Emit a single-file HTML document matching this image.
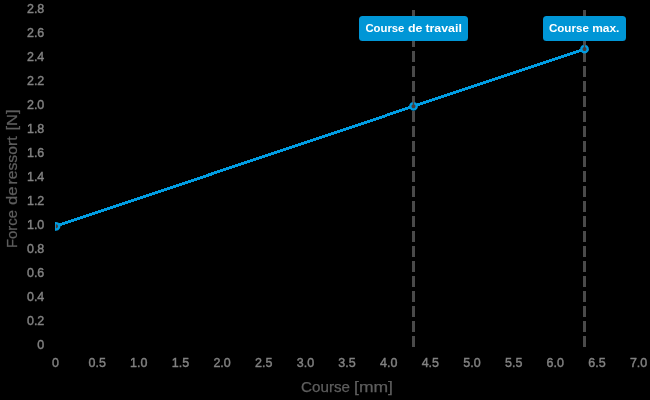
<!DOCTYPE html>
<html><head><meta charset="utf-8"><style>
html,body{margin:0;padding:0;background:#000;width:650px;height:400px;overflow:hidden}
svg{display:block;will-change:transform}
.t{font-family:"Liberation Sans",sans-serif;font-size:12.5px;fill:#828282;stroke:#828282;stroke-width:0.4px}
.at{font-family:"Liberation Sans",sans-serif;font-size:15px;fill:#5e5e5e;stroke:#5e5e5e;stroke-width:0.25px}
.lb{font-family:"Liberation Sans",sans-serif;font-size:11px;font-weight:bold;fill:#fff}
</style></head><body>
<svg width="650" height="400" viewBox="0 0 650 400">
<text transform="translate(44.3,348.60) scale(1,1.08)" text-anchor="end" class="t">0</text>
<text transform="translate(44.3,324.60) scale(1,1.08)" text-anchor="end" class="t">0.2</text>
<text transform="translate(44.3,300.60) scale(1,1.08)" text-anchor="end" class="t">0.4</text>
<text transform="translate(44.3,276.60) scale(1,1.08)" text-anchor="end" class="t">0.6</text>
<text transform="translate(44.3,252.60) scale(1,1.08)" text-anchor="end" class="t">0.8</text>
<text transform="translate(44.3,228.60) scale(1,1.08)" text-anchor="end" class="t">1.0</text>
<text transform="translate(44.3,204.60) scale(1,1.08)" text-anchor="end" class="t">1.2</text>
<text transform="translate(44.3,180.60) scale(1,1.08)" text-anchor="end" class="t">1.4</text>
<text transform="translate(44.3,156.60) scale(1,1.08)" text-anchor="end" class="t">1.6</text>
<text transform="translate(44.3,132.60) scale(1,1.08)" text-anchor="end" class="t">1.8</text>
<text transform="translate(44.3,108.60) scale(1,1.08)" text-anchor="end" class="t">2.0</text>
<text transform="translate(44.3,84.60) scale(1,1.08)" text-anchor="end" class="t">2.2</text>
<text transform="translate(44.3,60.60) scale(1,1.08)" text-anchor="end" class="t">2.4</text>
<text transform="translate(44.3,36.60) scale(1,1.08)" text-anchor="end" class="t">2.6</text>
<text transform="translate(44.3,12.60) scale(1,1.08)" text-anchor="end" class="t">2.8</text>
<text transform="translate(55.50,367.3) scale(1,1.08)" text-anchor="middle" class="t">0</text>
<text transform="translate(97.15,367.3) scale(1,1.08)" text-anchor="middle" class="t">0.5</text>
<text transform="translate(138.80,367.3) scale(1,1.08)" text-anchor="middle" class="t">1.0</text>
<text transform="translate(180.45,367.3) scale(1,1.08)" text-anchor="middle" class="t">1.5</text>
<text transform="translate(222.10,367.3) scale(1,1.08)" text-anchor="middle" class="t">2.0</text>
<text transform="translate(263.75,367.3) scale(1,1.08)" text-anchor="middle" class="t">2.5</text>
<text transform="translate(305.40,367.3) scale(1,1.08)" text-anchor="middle" class="t">3.0</text>
<text transform="translate(347.05,367.3) scale(1,1.08)" text-anchor="middle" class="t">3.5</text>
<text transform="translate(388.70,367.3) scale(1,1.08)" text-anchor="middle" class="t">4.0</text>
<text transform="translate(430.35,367.3) scale(1,1.08)" text-anchor="middle" class="t">4.5</text>
<text transform="translate(472.00,367.3) scale(1,1.08)" text-anchor="middle" class="t">5.0</text>
<text transform="translate(513.65,367.3) scale(1,1.08)" text-anchor="middle" class="t">5.5</text>
<text transform="translate(555.30,367.3) scale(1,1.08)" text-anchor="middle" class="t">6.0</text>
<text transform="translate(596.95,367.3) scale(1,1.08)" text-anchor="middle" class="t">6.5</text>
<text transform="translate(638.60,367.3) scale(1,1.08)" text-anchor="middle" class="t">7.0</text>
<text class="at" x="301.00" y="392.3" textLength="49.00" lengthAdjust="spacingAndGlyphs">Course</text>
<text class="at" x="354.00" y="392.3" textLength="39.00" lengthAdjust="spacingAndGlyphs">&#91;mm]</text>
<text class="at" transform="translate(17,0) rotate(-90)" x="-248.00" y="0" textLength="38.00" lengthAdjust="spacingAndGlyphs">Force</text>
<text class="at" transform="translate(17,0) rotate(-90)" x="-205.00" y="0" textLength="18.50" lengthAdjust="spacingAndGlyphs">de</text>
<text class="at" transform="translate(17,0) rotate(-90)" x="-184.50" y="0" textLength="48.00" lengthAdjust="spacingAndGlyphs">ressort</text>
<text class="at" transform="translate(17,0) rotate(-90)" x="-130.50" y="0" textLength="21.00" lengthAdjust="spacingAndGlyphs">[N]</text>
<line x1="413.5" y1="347" x2="413.5" y2="10" stroke="#4a4a4a" stroke-width="3" stroke-dasharray="11 4"/>
<line x1="584.5" y1="347" x2="584.5" y2="10" stroke="#4a4a4a" stroke-width="3" stroke-dasharray="11 4"/>
<polyline points="55.5,226.30 413.5,106.30 584.5,49.06" fill="none" stroke="#009de2" stroke-width="2.85" shape-rendering="crispEdges"/>
<defs><clipPath id="c"><rect x="55" y="0" width="600" height="400"/></clipPath></defs>
<g clip-path="url(#c)"><circle cx="56.00" cy="226.30" r="3.2" fill="#4c3c37"/><path d="M56.001,223.100A3.2,3.2 0 1 1 55.999,223.100" fill="none" stroke="#009de2" stroke-width="2.4"/><rect x="55" y="222.6" width="0.9" height="8" fill="#009de2"/></g>
<circle cx="413.50" cy="106.30" r="3.2" fill="#4c3c37"/><path d="M414.274,103.195A3.2,3.2 0 1 1 412.726,103.195" fill="none" stroke="#009de2" stroke-width="2.4"/>
<circle cx="584.50" cy="49.06" r="3.2" fill="#4c3c37"/><path d="M585.274,45.955A3.2,3.2 0 1 1 583.726,45.955" fill="none" stroke="#009de2" stroke-width="2.4"/>
<rect x="359" y="16" width="109" height="25" rx="3.5" fill="#0096d6"/>
<text class="lb" x="365.40" y="31.6" textLength="39.00" lengthAdjust="spacingAndGlyphs">Course</text><text class="lb" x="407.90" y="31.6" textLength="14.50" lengthAdjust="spacingAndGlyphs">de</text><text class="lb" x="425.40" y="31.6" textLength="36.50" lengthAdjust="spacingAndGlyphs">travail</text>
<rect x="543" y="16" width="83" height="25" rx="3.5" fill="#0096d6"/>
<text class="lb" x="548.90" y="31.6" textLength="40.00" lengthAdjust="spacingAndGlyphs">Course</text><text class="lb" x="592.15" y="31.6" textLength="27.25" lengthAdjust="spacingAndGlyphs">max.</text>
</svg>
</body></html>
